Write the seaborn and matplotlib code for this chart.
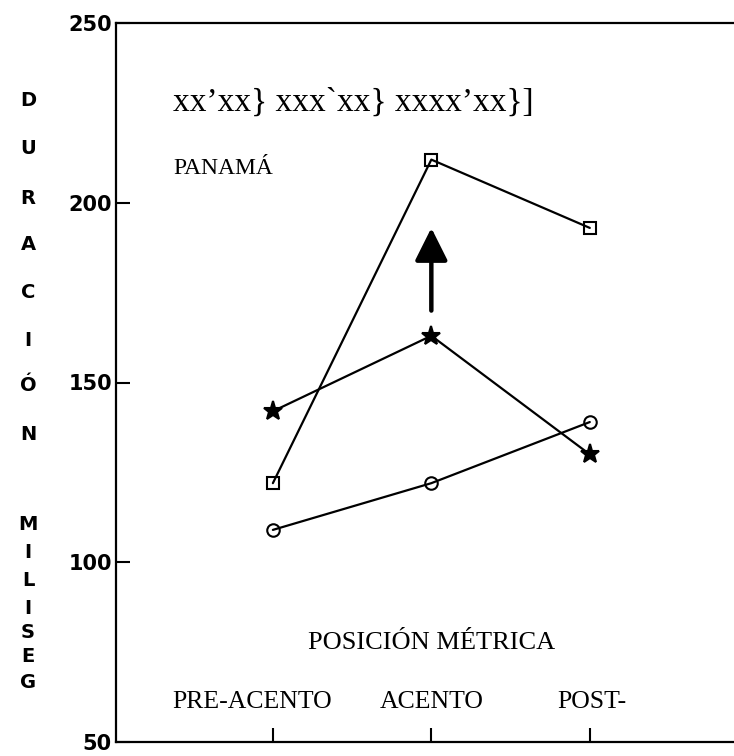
import matplotlib
matplotlib.use("Agg")
import matplotlib.pyplot as plt
import seaborn as sns
import pandas as pd
from matplotlib.transforms import blended_transform_factory

# ---- data ----
positions = ["PRE-ACENTO", "ACENTO", "POST-"]
square_vals = [122, 212, 193]
star_vals = [142, 163, 130]
circle_vals = [109, 122, 139]
arrow_from = 170
arrow_to = 193
y_ticks = [50, 100, 150, 200, 250]
ylabel_top = list("DURACIÓN")
ylabel_bottom = list("MILISEG")

sns.set_theme(style="white")
plt.rcParams["font.family"] = ["DejaVu Sans"]
plt.rcParams["text.color"] = "black"
plt.rcParams["xtick.color"] = "black"
plt.rcParams["ytick.color"] = "black"
plt.rcParams["axes.labelcolor"] = "black"

W, H = 734, 756
fig = plt.figure(figsize=(W / 100, H / 100), dpi=100)
ax = fig.add_axes([116 / W, 1 - 742 / H, 1 - 116 / W, (742 - 23) / H])

line_kw = dict(color="black", linewidth=1.6, markeredgecolor="black",
               markeredgewidth=1.5, sort=False)

df_sq = pd.DataFrame({"pos": positions, "dur": square_vals})
df_st = pd.DataFrame({"pos": positions, "dur": star_vals})
df_ci = pd.DataFrame({"pos": positions, "dur": circle_vals})

sns.lineplot(data=df_sq, x="pos", y="dur", ax=ax, marker="s", markersize=9,
             markerfacecolor="none", **line_kw)
sns.lineplot(data=df_st, x="pos", y="dur", ax=ax, marker="*", markersize=14,
             markerfacecolor="black", **line_kw)
sns.lineplot(data=df_ci, x="pos", y="dur", ax=ax, marker="o", markersize=9,
             markerfacecolor="none", **line_kw)

# arrow
ax.annotate("", xy=(1, arrow_to), xytext=(1, arrow_from),
            arrowprops=dict(arrowstyle="-|>,head_length=1.0,head_width=0.5",
                            mutation_scale=20, color="black", lw=3.2,
                            shrinkA=0, shrinkB=0))

ax.set_xlim(-0.99, 2.91)
ax.set_ylim(50, 250)
ax.set_yticks(y_ticks)
ax.set_yticklabels([str(v) for v in y_ticks], fontweight="bold", fontsize=15,
                   family="DejaVu Sans", color="black")
ax.set_xticks(range(len(positions)))
ax.set_xticklabels([""] * len(positions))
ax.set_xlabel("")
ax.set_ylabel("")
ax.tick_params(axis="both", direction="in", length=10, width=1.5, color="black",
               pad=3, left=True, bottom=True)

for side in ["left", "bottom", "top"]:
    ax.spines[side].set_visible(True)
    ax.spines[side].set_color("black")
    ax.spines[side].set_linewidth(1.6)
ax.spines["right"].set_visible(False)

serif = ["Liberation Serif", "DejaVu Serif"]
trans = blended_transform_factory(ax.transData, ax.transAxes)
label_shift = [-0.13, 0.0, 0.01]
for i, name in enumerate(positions):
    ax.text(i + label_shift[i], (742 - 702) / 719, name, transform=trans,
            ha="center", va="center", fontsize=18.5, family=serif,
            color="black")

ax.text(1, (742 - 643) / 719, "POSICIÓN MÉTRICA", transform=trans,
        ha="center", va="center", fontsize=19, family=serif, color="black")
ax.text((173 - 116) / 618, (742 - 102) / 719, "xx’xx} xxx`xx} xxxx’xx}]",
        transform=ax.transAxes, ha="left", va="center", fontsize=24,
        family=serif, color="black")
ax.text((173 - 116) / 618, (742 - 168) / 719, "PANAMÁ",
        transform=ax.transAxes, ha="left", va="center", fontsize=17,
        family=serif, color="black")

# vertical stacked y label
top_y = [101, 148, 198, 245, 292, 340, 385, 435]
bot_y = [525, 553, 580, 608, 633, 657, 682]
for ch, yy in zip(ylabel_top + ylabel_bottom, top_y + bot_y):
    fig.text(28 / W, 1 - yy / H, ch, ha="center", va="center",
             fontsize=14, fontweight="bold", family="DejaVu Sans",
             color="black")

fig.savefig("out.png", dpi=100)
